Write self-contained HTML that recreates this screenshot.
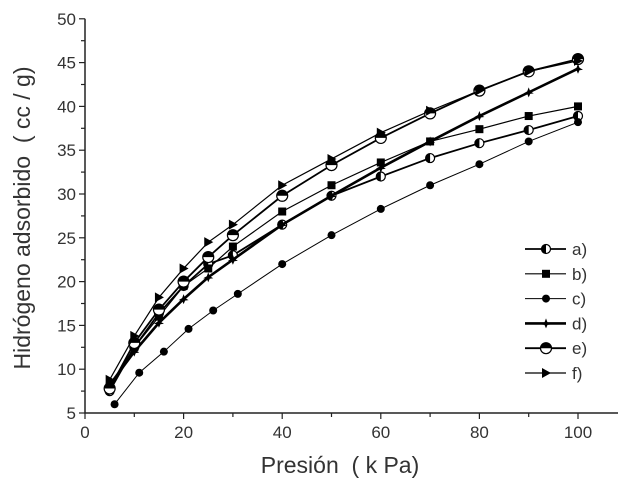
<!DOCTYPE html>
<html><head><meta charset="utf-8"><style>
body{margin:0;background:#fff;}
svg{display:block;font-family:"Liberation Sans",sans-serif;}
text{white-space:pre;}
</style></head><body>
<svg id="chart" width="624" height="493"></svg>
<script>
const xValues=[5,10,15,20,25,30,40,50,60,70,80,90,100];
const xValuesC=[6,11,16,21,26,31,40,50,60,70,80,90,100];
const seriesA=[7.5,12.5,16.4,19.5,22,23,26.5,29.8,32,34.1,35.8,37.3,38.9];
const seriesB=[8,12.5,16,19.5,21.5,24,28,31,33.6,36,37.4,38.9,40];
const seriesC=[6,9.6,12,14.6,16.7,18.6,22,25.3,28.3,31,33.4,36,38.2];
const seriesD=[8.2,12,15.3,18,20.5,22.5,26.5,29.8,33,36,38.9,41.6,44.3];
const seriesE=[7.8,13,16.8,20,22.8,25.3,29.8,33.3,36.4,39.2,41.8,44,45.4];
const seriesF=[8.8,13.8,18.2,21.5,24.5,26.5,31,34,37,39.5,41.8,44,45.2];
const xTicks=[0,20,40,60,80,100];
const yTicks=[5,10,15,20,25,30,35,40,45,50];
const legendLabels=["a)","b)","c)","d)","e)","f)"];

const NS="http://www.w3.org/2000/svg";
const svg=document.getElementById('chart');
const X0=85,XS=4.93,Y0=413,YS=8.76;
const sx=v=>X0+v*XS, sy=v=>Y0-(v-5)*YS;
function el(t,a,p){const e=document.createElementNS(NS,t);for(const k in a)e.setAttribute(k,a[k]);(p||svg).appendChild(e);return e;}

const ax=el('path',{d:`M${X0} ${sy(50)}V${Y0}H618`,fill:'none',stroke:'#222','stroke-width':1.5});


for(let v=0;v<=110;v+=10){const t=el('line',{x1:sx(v),x2:sx(v),y1:Y0,y2:Y0+(v%20===0?6:4),stroke:'#222','stroke-width':1.2});

}
for(let v=5;v<=50;v+=2.5){const t=el('line',{x1:X0,x2:X0-(v%5===0?6:4),y1:sy(v),y2:sy(v),stroke:'#222','stroke-width':1.2});

}
xTicks.forEach(v=>{const t=el('text',{x:sx(v),y:Y0+25,'text-anchor':'middle','font-size':17,fill:'#333'});t.textContent=v;

});
yTicks.forEach(v=>{const t=el('text',{x:X0-9,y:sy(v)+6,'text-anchor':'end','font-size':17,fill:'#333'});t.textContent=v;

});
const xt=el('text',{x:340,y:473,'text-anchor':'middle','font-size':23,fill:'#333'});xt.textContent='Presión  ( k Pa)';


const yt=el('text',{x:0,y:0,transform:'translate(30,218) rotate(-90)','text-anchor':'middle','font-size':23,fill:'#333'});yt.textContent='Hidrógeno adsorbido  ( cc / g)';



function marker(type,x,y,g){
  if(type==='a'){el('circle',{cx:x,cy:y,r:4.5,fill:'#fff',stroke:'#000','stroke-width':1.2},g);el('path',{d:`M${x} ${y-4.5}A4.5 4.5 0 0 0 ${x} ${y+4.5}Z`,fill:'#000'},g);}
  else if(type==='b'){el('rect',{x:x-4,y:y-4,width:8,height:8,fill:'#000'},g);}
  else if(type==='c'){el('circle',{cx:x,cy:y,r:4,fill:'#000'},g);}
  else if(type==='d'){el('path',{d:`M${x} ${y-5}L${x+1.5} ${y-1}L${x+5} ${y+1}L${x+1.5} ${y+1.5}L${x} ${y+5}L${x-1.5} ${y+1.5}L${x-5} ${y+1}L${x-1.5} ${y-1}Z`,fill:'#000'},g);}
  else if(type==='e'){el('circle',{cx:x,cy:y,r:5.5,fill:'#fff',stroke:'#000','stroke-width':1.2},g);el('path',{d:`M${x-5.5} ${y}A5.5 5.5 0 0 1 ${x+5.5} ${y}Z`,fill:'#000'},g);}
  else if(type==='f'){el('path',{d:`M${x-4} ${y-5}L${x+5} ${y}L${x-4} ${y+5}Z`,fill:'#000'},g);}
}
const series=[['a',xValues,seriesA,1.8],['b',xValues,seriesB,1.2],['c',xValuesC,seriesC,1],['d',xValues,seriesD,2.6],['e',xValues,seriesE,1.8],['f',xValues,seriesF,1.2]];
series.forEach(([k,xs,ys,w])=>{
  const g=el('g',{});
  
  
  el('polyline',{points:xs.map((x,i)=>sx(x)+','+sy(ys[i])).join(' '),fill:'none',stroke:'#000','stroke-width':w},g);
  xs.forEach((x,i)=>marker(k,sx(x),sy(ys[i]),g));
});
const lg=el('g',{});


const lw=[1.8,1.2,1,2.6,1.8,1.2];
legendLabels.forEach((lab,i)=>{
  const y=249+i*24.8;
  const g=el('g',{},lg);
  
  
  el('line',{x1:525,x2:566,y1:y,y2:y,stroke:'#000','stroke-width':lw[i]},g);
  marker('abcdef'[i],546,y,g);
  const t=el('text',{x:572,y:y+6,'font-size':17,fill:'#333'},g);t.textContent=lab;
});
</script>
</body></html>
